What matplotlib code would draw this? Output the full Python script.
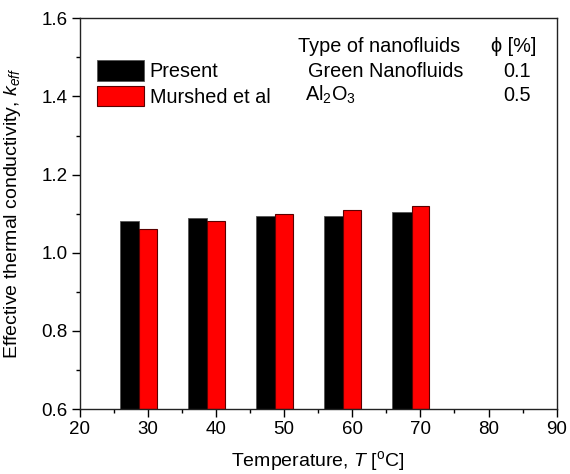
import matplotlib
matplotlib.use("Agg")
import matplotlib.pyplot as plt
from matplotlib.ticker import MultipleLocator, FormatStrFormatter

plt.rcParams["font.family"] = ["Liberation Sans", "DejaVu Sans"]
plt.rcParams["mathtext.fontset"] = "custom"
plt.rcParams["mathtext.rm"] = "Liberation Sans"
plt.rcParams["mathtext.it"] = "Liberation Sans:italic"
plt.rcParams["mathtext.bf"] = "Liberation Sans:bold"

# Data
temperatures = [30, 40, 50, 60, 70]
k_present = [1.082, 1.090, 1.094, 1.095, 1.104]
k_murshed = [1.060, 1.080, 1.100, 1.110, 1.120]
series_labels = ["Present", "Murshed et al"]
fluid_types = ["Green Nanofluids", r"Al$_2$O$_3$"]
phi_values = ["0.1", "0.5"]

TEXT_FS = 14.3
TICK_FS = 13.5
LABEL_FS = 14

fig = plt.figure(figsize=(5.7, 4.74), dpi=100)
ax = fig.add_axes([0.1395, 0.137, 0.8372, 0.8244])

w_black = 2.8
w_red = 2.6
x_black = [t - 1.3 - w_black / 2 for t in temperatures]
b1 = ax.bar(x_black, [k - 0.6 for k in k_present], bottom=0.6, width=w_black,
            color="black", edgecolor="#555555", linewidth=0.6,
            label=series_labels[0])
b2 = ax.bar(temperatures, [k - 0.6 for k in k_murshed], bottom=0.6, width=w_red,
            color="#ff0000", edgecolor="#5a0000", linewidth=0.8,
            label=series_labels[1])

ax.set_xlim(20, 90)
ax.set_ylim(0.6, 1.6)
ax.xaxis.set_major_locator(MultipleLocator(10))
ax.xaxis.set_minor_locator(MultipleLocator(5))
ax.yaxis.set_major_locator(MultipleLocator(0.2))
ax.yaxis.set_minor_locator(MultipleLocator(0.1))
ax.yaxis.set_major_formatter(FormatStrFormatter("%.1f"))
ax.tick_params(which="both", direction="out", top=False, right=False,
               labelsize=TICK_FS, color="black", width=1.0)
ax.tick_params(which="major", length=5.5, pad=3)
ax.tick_params(which="minor", length=3)
for sp in ax.spines.values():
    sp.set_linewidth(1.0)
    sp.set_color("#222222")

ax.set_xlabel(r"Temperature, $\mathit{T}$ [$^{\mathrm{o}}$C]", fontsize=LABEL_FS,
              labelpad=8)
ax.set_ylabel(r"Effective thermal conductivity, $\mathit{k}_{\mathit{eff}}$",
              fontsize=LABEL_FS, labelpad=13)

leg = ax.legend(handles=[b1, b2], loc="upper left",
                bbox_to_anchor=(0.0367, 0.892), frameon=False, fontsize=TEXT_FS,
                handlelength=2.35, handleheight=1.2, handletextpad=0.3,
                labelspacing=0.22, borderaxespad=0.0, borderpad=0.0)

# Table columns beside the legend
ax.text(0.458, 0.9137, "Type of nanofluids", transform=ax.transAxes,
        fontsize=TEXT_FS, va="baseline", ha="left")
ax.text(0.862, 0.9137, "\u03d5 [%]", transform=ax.transAxes,
        fontsize=TEXT_FS, va="baseline", ha="left",
        family=["Liberation Sans", "DejaVu Sans"])
row_y = [0.8497, 0.7883]
fluid_x = [0.479, 0.4726]
for y, ft, xv, ph in zip(row_y, fluid_types, fluid_x, phi_values):
    ax.text(xv, y, ft, transform=ax.transAxes, fontsize=TEXT_FS,
            va="baseline", ha="left")
    ax.text(0.946, y, ph, transform=ax.transAxes, fontsize=TEXT_FS,
            va="baseline", ha="right")

fig.savefig("out.png", dpi=100)
